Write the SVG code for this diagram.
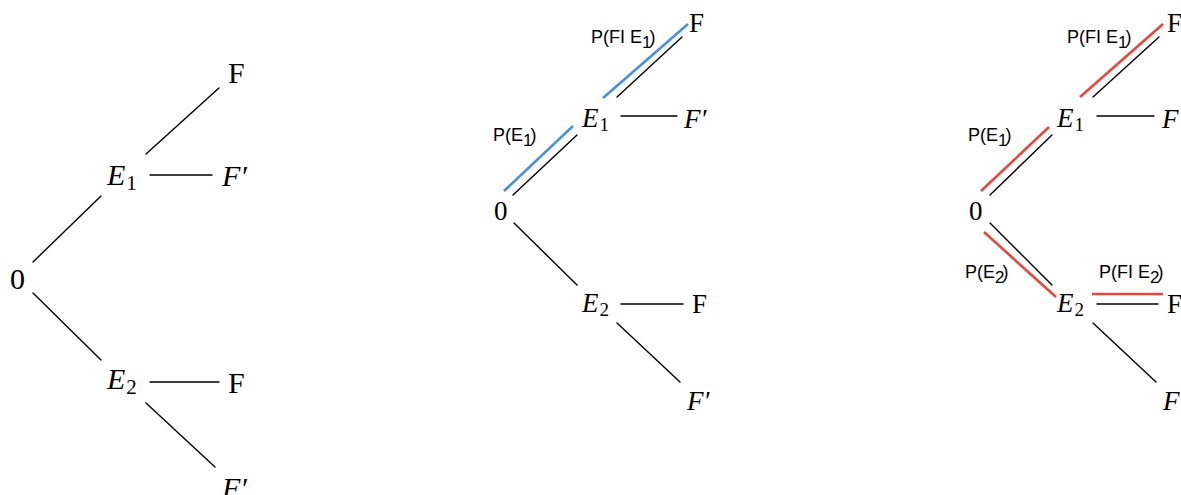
<svg xmlns="http://www.w3.org/2000/svg" width="1181" height="495" viewBox="0 0 1181 495">
<style>
.m{font-family:"Liberation Serif","DejaVu Serif",serif;fill:#000}
.b1{font-size:30px}
.b2{font-size:27px}
.i{font-style:italic}
.lab{font-family:"Liberation Sans",Arial,sans-serif;font-size:18px;fill:#000}
.k{stroke:#000;stroke-width:1.4;fill:none;stroke-linecap:round}
.bl{stroke:#4a8fe6;stroke-width:2.6;fill:none}
.rd{stroke:#e9473d;stroke-width:2.6;fill:none}
</style>
<rect width="1181" height="495" fill="#fff"/>
<g id="connectors">
<line class="k" x1="33" y1="262" x2="101" y2="196"/>
<line class="k" x1="146" y1="154" x2="219" y2="88"/>
<line class="k" x1="150" y1="175" x2="212" y2="175"/>
<line class="k" x1="33" y1="293" x2="101" y2="360"/>
<line class="k" x1="150" y1="382" x2="219" y2="382"/>
<line class="k" x1="146" y1="403" x2="215" y2="467"/>

<line class="bl" x1="504" y1="191" x2="573" y2="126"/>
<line class="k" x1="513" y1="195" x2="577" y2="135"/>
<line class="bl" x1="603" y1="98" x2="688" y2="24"/>
<line class="k" x1="617" y1="97" x2="682" y2="37"/>
<line class="k" x1="621" y1="116" x2="677" y2="116"/>
<line class="k" x1="514" y1="223" x2="577" y2="285"/>
<line class="k" x1="621" y1="304" x2="683" y2="304"/>
<line class="k" x1="617" y1="323" x2="680" y2="382"/>

<line class="rd" x1="981" y1="191" x2="1049" y2="127"/>
<line class="k" x1="990" y1="195" x2="1052" y2="135"/>
<line class="rd" x1="1080" y1="97" x2="1163" y2="24"/>
<line class="k" x1="1093" y1="97" x2="1159" y2="37"/>
<line class="k" x1="1097" y1="116" x2="1154" y2="116"/>
<line class="k" x1="990" y1="223" x2="1052" y2="285"/>
<line class="rd" x1="984" y1="232" x2="1056" y2="297"/>
<line class="rd" x1="1092" y1="294" x2="1163" y2="294"/>
<line class="k" x1="1097" y1="304" x2="1158" y2="304"/>
<line class="k" x1="1093" y1="323" x2="1156" y2="382"/>
</g>

<g id="t1-root"><text class="m b1" x="10" y="289">0</text></g>
<g id="t1-E1"><text class="m b1" x="107" y="185"><tspan class="i">E</tspan><tspan font-size="21" dx="1" dy="5">1</tspan></text></g>
<g id="t1-E1-F"><text class="m b1" x="228" y="83">F</text></g>
<g id="t1-E1-Fp"><text class="m b1 i" x="222" y="186">F′</text></g>
<g id="t1-E2"><text class="m b1" x="107" y="389"><tspan class="i">E</tspan><tspan font-size="21" dx="1" dy="5">2</tspan></text></g>
<g id="t1-E2-F"><text class="m b1" x="228" y="393">F</text></g>
<g id="t1-E2-Fp"><text class="m b1 i" x="222" y="498">F′</text></g>

<g id="t2-root"><text class="m b2" x="494" y="220">0</text></g>
<g id="t2-E1"><text class="m b2" x="582" y="127"><tspan class="i">E</tspan><tspan font-size="19" dx="1" dy="4">1</tspan></text></g>
<g id="t2-E1-F"><text class="m b2" x="689" y="32">F</text></g>
<g id="t2-E1-Fp"><text class="m b2 i" x="684" y="128">F′</text></g>
<g id="t2-E2"><text class="m b2" x="582" y="312"><tspan class="i">E</tspan><tspan font-size="19" dx="1" dy="4">2</tspan></text></g>
<g id="t2-E2-F"><text class="m b2" x="692" y="313">F</text></g>
<g id="t2-E2-Fp"><text class="m b2 i" x="687" y="410">F′</text></g>
<g id="t2-labels">
<text class="lab" x="591" y="43">P(FI E<tspan font-size="17" dy="5">1</tspan><tspan dx="-2" dy="-5">)</tspan></text>
<text class="lab" x="493" y="141">P(E<tspan font-size="17" dy="5">1</tspan><tspan dx="-2" dy="-5">)</tspan></text>
</g>

<g id="t3-root"><text class="m b2" x="969" y="220">0</text></g>
<g id="t3-E1"><text class="m b2" x="1057" y="127"><tspan class="i">E</tspan><tspan font-size="19" dx="1" dy="4">1</tspan></text></g>
<g id="t3-E1-F"><text class="m b2" x="1167" y="32">F</text></g>
<g id="t3-E1-Fp"><text class="m b2 i" x="1162" y="128">F′</text></g>
<g id="t3-E2"><text class="m b2" x="1057" y="312"><tspan class="i">E</tspan><tspan font-size="19" dx="1" dy="4">2</tspan></text></g>
<g id="t3-E2-F"><text class="m b2" x="1167" y="313">F</text></g>
<g id="t3-E2-Fp"><text class="m b2 i" x="1163" y="410">F′</text></g>
<g id="t3-labels">
<text class="lab" x="1067" y="43">P(FI E<tspan font-size="17" dy="5">1</tspan><tspan dx="-2" dy="-5">)</tspan></text>
<text class="lab" x="968" y="141">P(E<tspan font-size="17" dy="5">1</tspan><tspan dx="-2" dy="-5">)</tspan></text>
<text class="lab" x="965" y="278">P(E<tspan font-size="17" dy="5">2</tspan><tspan dx="-2" dy="-5">)</tspan></text>
<text class="lab" x="1099" y="278">P(FI E<tspan font-size="17" dy="5">2</tspan><tspan dx="-2" dy="-5">)</tspan></text>
</g>
</svg>
